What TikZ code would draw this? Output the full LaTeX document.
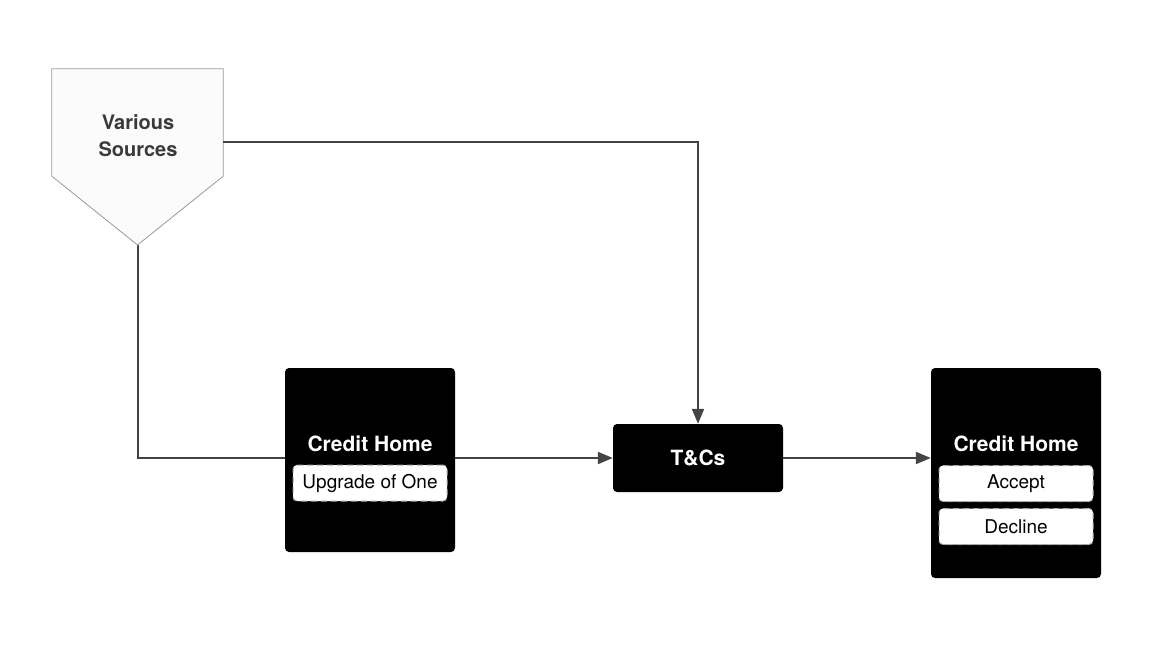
\documentclass[tikz,border=0pt]{standalone}
\usepackage{fontspec}
\setmainfont{TeX Gyre Heros}
\usepackage{xcolor}
\usetikzlibrary{positioning,arrows.meta,backgrounds}
\definecolor{linegray}{HTML}{444444}
\definecolor{srcfill}{HTML}{FBFBFB}
\definecolor{srcborder}{HTML}{9A9A9A}
\definecolor{srctext}{HTML}{3A3A3A}
\definecolor{dashgray}{HTML}{A8A8A8}

\begin{document}
\begin{tikzpicture}[
  x=1pt, y=-1pt,
  screen/.style={fill=black, rounded corners=4pt, minimum width=170pt, inner sep=0pt},
  title/.style={text=white, font=\bfseries\fontsize{21}{24}\selectfont},
  button/.style={draw=dashgray, dash pattern=on 6pt off 4pt, line width=1pt, fill=white, rounded corners=4pt, minimum width=154pt, minimum height=36pt, inner sep=0pt, font=\fontsize{19}{22}\selectfont, text=black},
  flow/.style={-{Triangle[length=15pt,width=12pt]}, line width=2pt, draw=linegray}
]
\useasboundingbox (0,0) rectangle (1165,656);

% source
\node[minimum width=171pt, minimum height=107pt, inner sep=0pt] (src) at (137.5,122.5) {};
\coordinate (apex) at (137.5,245);
\coordinate (srcout) at (223,142);
\draw[draw=srcborder, fill=srcfill, line width=0.8pt] (src.north west) -- (src.north east) -- (src.south east) -- (apex) -- (src.south west) -- cycle;
\node[align=center, text=srctext, font=\bfseries\fontsize{20}{27}\selectfont] (srclabel) at (138,136) {Various\\Sources};

% screens
\node[screen, minimum height=184pt] (home) at (370,460) {};
\node[title] (hometitle) at (370,444) {Credit Home};
\node[button] (upgrade) at (370,483) {Upgrade of One};

\node[screen, minimum height=68pt] (tc) at (698,458) {};
\node[title] (tctitle) at (tc) {T\&Cs};

\node[screen, minimum height=210pt] (result) at (1016,473) {};
\node[title] (resulttitle) at (1016,444) {Credit Home};
\node[button] (accept) at (1016,483.5) {Accept};
\node[button] (decline) at (1016,526.5) {Decline};

% connectors
\draw[flow] (srcout) -| (tc.north);
\begin{scope}[on background layer]
\draw[flow] (apex) |- (tc.west);
\end{scope}
\draw[flow] (tc.east) -- (result.west |- tc.east);
\end{tikzpicture}
\end{document}
